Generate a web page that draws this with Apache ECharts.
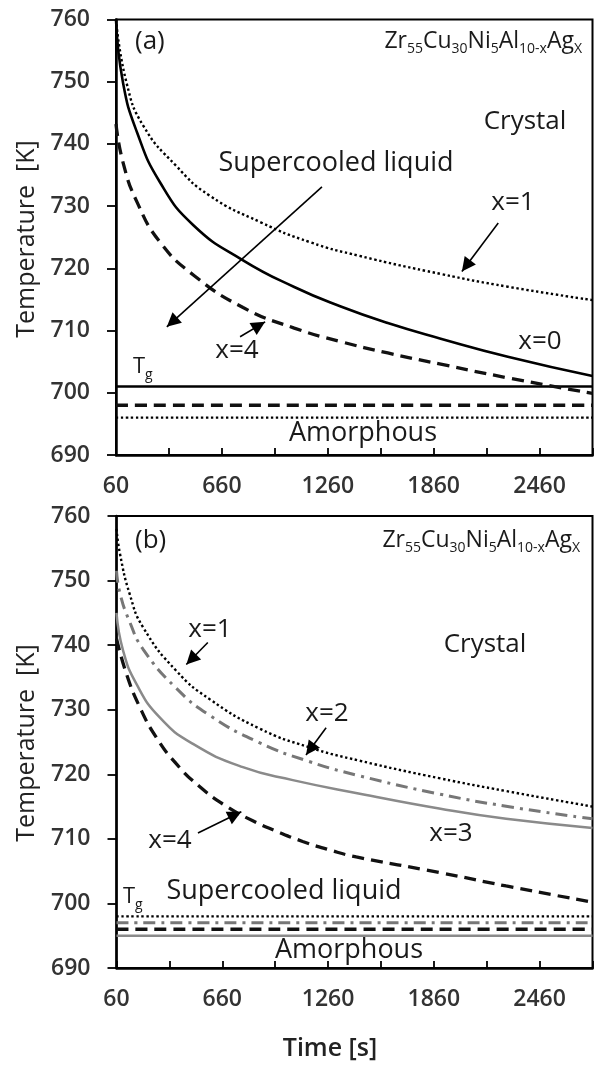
<!DOCTYPE html>
<html><head><meta charset="utf-8">
<script src="https://cdn.jsdelivr.net/npm/echarts@6/dist/echarts.min.js"></script>
<style>html,body{margin:0;padding:0;background:#fff}#c{width:598px;height:1068px}</style>
</head><body><div id="c"></div>
<script>
// ---------- axis settings ----------
const T0 = 60, TMAX = 2760;            // time axis range [s]
const T_MINOR = 300, T_LABEL_STEP = 600;
const K_MIN = 690, K_MAX = 760, K_STEP = 10;

// ---------- panel (a) ----------
const tA_x0 = [60,100,180,310,500,780,1070,1330,1600,1900,2280,2760];
const kA_x0 = [760,749.8,741.8,733.8,726.9,721.3,717.0,713.9,711.2,708.7,705.8,702.7];
const tA_x1 = [60,120,215,400,590,880,1160,1440,1900,2280,2760];
const kA_x1 = [760,749.8,742.9,736.5,731.7,727.4,724.2,722.0,719.1,717.05,714.9];
const tA_x4 = [60,100,180,310,500,780,1070,1330,1600,1900,2280,2760];
const kA_x4 = [743.2,737.0,730.6,724.2,718.9,713.7,710.4,708.25,706.4,704.6,702.4,699.9];
const tgA = [701, 698, 696];   // Tg for x=0 (solid), x=4 (dashed), x=1 (dotted)

// ---------- panel (b) ----------
const tB_x1 = [60,80,135,210,400,590,870,1150,1440,1890,2270,2760];
const kB_x1 = [758,754.1,747.9,742.8,736.0,731.6,727.1,724.2,722.1,719.4,717.4,715.0];
const tB_x2 = [60,80,135,210,400,590,870,1150,1440,1890,2270,2760];
const kB_x2 = [751.5,748.0,743.6,739.4,733.3,729.1,724.9,722.0,719.75,716.95,715.05,713.1];
const tB_x3 = [60,97,173,305,494,777,1060,1440,1890,2270,2760];
const kB_x3 = [745,739.2,734.0,728.8,724.7,721.1,719.1,717.0,714.7,713.1,711.7];
const tB_x4 = [60,117,192,286,400,531,683,833,966,1116,1267,1420,1890,2270,2760];
const kB_x4 = [741,735.5,730.4,725.7,721.6,718.1,715.05,712.8,711.2,709.6,708.3,707.2,704.8,702.7,700.2];
const tgB = [698, 697, 696, 695]; // Tg for x=1, x=2, x=4, x=3

// arrows [t_from, K_from, t_to (tip), K_to (tip)]
const arrowsA = [[2226,727.3,2020,719.5],[763,709.0,905,711.4],[1227,733.1,348,710.6]];
const arrowsB = [[578,740.4,456,737.0],[1249,727.2,1135,723.0],[522,710.9,768,714.2]];

// ---------- helpers ----------
const FF = '"Open Sans", "Noto Sans", sans-serif';
const pts = (ts, ks) => ts.map((t, i) => [t - T0, ks[i]]);
const hl = k => [[0, k], [TMAX - T0, k]];
const STY = {
  solid:   {color:'#000', width:2.6, type:'solid'},
  dotted:  {color:'#000', width:2.4, type:[2.4,2.6]},
  dashed:  {color:'#111', width:3.3, type:[12,7]},
  dashdot: {color:'#777', width:3, type:[12,6,3,6]},
  gray:    {color:'#8a8a8a', width:2.5, type:'solid'}
};
function line(name, data, sty, gi, extra) {
  return Object.assign({
    type:'line', name, data, xAxisIndex:gi, yAxisIndex:gi,
    smooth:0.5, showSymbol:false, symbol:'none',
    silent:true, animation:false, lineStyle:Object.assign({}, sty), z:3
  }, extra || {});
}
function arrowML(list) {
  return {
    silent:true, animation:false, symbol:['none','triangle'], symbolSize:14,
    symbolOffset:[[0,0],[0,7]],
    label:{show:false}, lineStyle:{color:'#000', width:1.6, type:'solid'},
    itemStyle:{color:'#000'}, emphasis:{disabled:true},
    data:list.map(a => [{coord:[a[0]-T0, a[1]]}, {coord:[a[2]-T0, a[3]]}])
  };
}
function xAxis(gi) {
  return {
    type:'value', gridIndex:gi, min:0, max:TMAX - T0, interval:T_MINOR,
    axisLine:{show:true, onZero:false, lineStyle:{color:'#000', width:2.5}},
    axisTick:{show:true, inside:true, length:7, lineStyle:{color:'#000', width:1.8}},
    axisLabel:{margin:20, fontSize:23, fontWeight:600, fontFamily:FF, color:'#333',
      formatter:v => (v % T_LABEL_STEP === 0 && v + T0 < TMAX) ? String(v + T0) : ''},
    splitLine:{show:false}
  };
}
function yAxis(gi) {
  return {
    type:'value', gridIndex:gi, min:K_MIN, max:K_MAX, interval:K_STEP,
    axisLine:{show:true, onZero:false, lineStyle:{color:'#000', width:2.5}},
    axisTick:{show:true, inside:false, length:9, lineStyle:{color:'#000', width:1.8}},
    axisLabel:{margin:26, fontSize:23, fontWeight:600, fontFamily:FF, color:'#333'},
    splitLine:{show:false}
  };
}
function txt(text, x, y, size, opts) {
  opts = opts || {};
  return {type:'text', x, y, rotation:opts.rot || 0, silent:true, z:10,
    style:Object.assign({text, font:(opts.weight||'normal')+' '+size+'px '+FF,
      fill:opts.fill || '#1a1a1a', align:opts.align || 'center', verticalAlign:'middle'}, opts.style || {})};
}
const formula = 'Zr{s|55}Cu{s|30}Ni{s|5}Al{s|10-x}Ag{s|X}';
const subRich = {s:{fontSize:14, fontFamily:FF, fill:'#1a1a1a', lineHeight:30, verticalAlign:'bottom'}};

const series = [
  // panel (a)
  line('Tg x=0', hl(tgA[0]), STY.solid, 0),
  line('Tg x=4', hl(tgA[1]), STY.dashed, 0),
  line('Tg x=1', hl(tgA[2]), STY.dotted, 0),
  line('x=0', pts(tA_x0, kA_x0), STY.solid, 0, {markLine:arrowML(arrowsA)}),
  line('x=1', pts(tA_x1, kA_x1), STY.dotted, 0),
  line('x=4', pts(tA_x4, kA_x4), STY.dashed, 0),
  // panel (b)
  line('Tg x=1 b', hl(tgB[0]), STY.dotted, 1),
  line('Tg x=2 b', hl(tgB[1]), STY.dashdot, 1),
  line('Tg x=4 b', hl(tgB[2]), STY.dashed, 1),
  line('Tg x=3 b', hl(tgB[3]), STY.gray, 1),
  line('x=1 b', pts(tB_x1, kB_x1), STY.dotted, 1, {markLine:arrowML(arrowsB)}),
  line('x=2 b', pts(tB_x2, kB_x2), STY.dashdot, 1),
  line('x=3 b', pts(tB_x3, kB_x3), STY.gray, 1),
  line('x=4 b', pts(tB_x4, kB_x4), STY.dashed, 1)
];

const graphic = [
  // panel (a)
  txt('(a)', 135, 42, 26, {align:'left'}),
  txt(formula, 582, 41, 23, {align:'right', style:{rich:subRich}}),
  txt('Crystal', 525, 122, 26),
  txt('Supercooled liquid', 336, 163, 27),
  txt('x=1', 513, 203, 26),
  txt('x=0', 540, 342, 26),
  txt('x=4', 237, 351, 26),
  txt('T{s|g}', 133, 367, 22, {align:'left', style:{rich:subRich}}),
  txt('Amorphous', 363, 433, 27),
  // panel (b)
  txt('(b)', 135, 541, 26, {align:'left'}),
  txt(formula, 580, 540, 23, {align:'right', style:{rich:subRich}}),
  txt('Crystal', 485, 645, 26),
  txt('x=1', 210, 630, 26),
  txt('x=2', 327, 714, 26),
  txt('x=3', 451, 834, 26),
  txt('x=4', 170, 841, 26),
  txt('T{s|g}', 123, 897, 22, {align:'left', style:{rich:subRich}}),
  txt('Supercooled liquid', 284, 891, 27),
  txt('Amorphous', 349, 950, 27),
  // axis titles
  txt('Temperature  [K]', 27, 239, 25, {rot:Math.PI/2, fill:'#222'}),
  txt('Temperature  [K]', 27, 743, 25, {rot:Math.PI/2, fill:'#222'}),
  txt('Time [s]', 330, 1049, 25, {weight:600, fill:'#222'})
];

const option = {
  backgroundColor:'#fff',
  animation:false,
  grid:[
    {left:116, top:19.5, width:476.5, height:435.5, show:true, borderColor:'#000', borderWidth:2, containLabel:false},
    {left:116.5, top:516, width:476, height:452, show:true, borderColor:'#000', borderWidth:2, containLabel:false}
  ],
  xAxis:[xAxis(0), xAxis(1)],
  yAxis:[yAxis(0), yAxis(1)],
  series,
  graphic
};
const chart = echarts.init(document.getElementById('c'), null, {renderer:'canvas'});
chart.setOption(option);
</script>
</body></html>
